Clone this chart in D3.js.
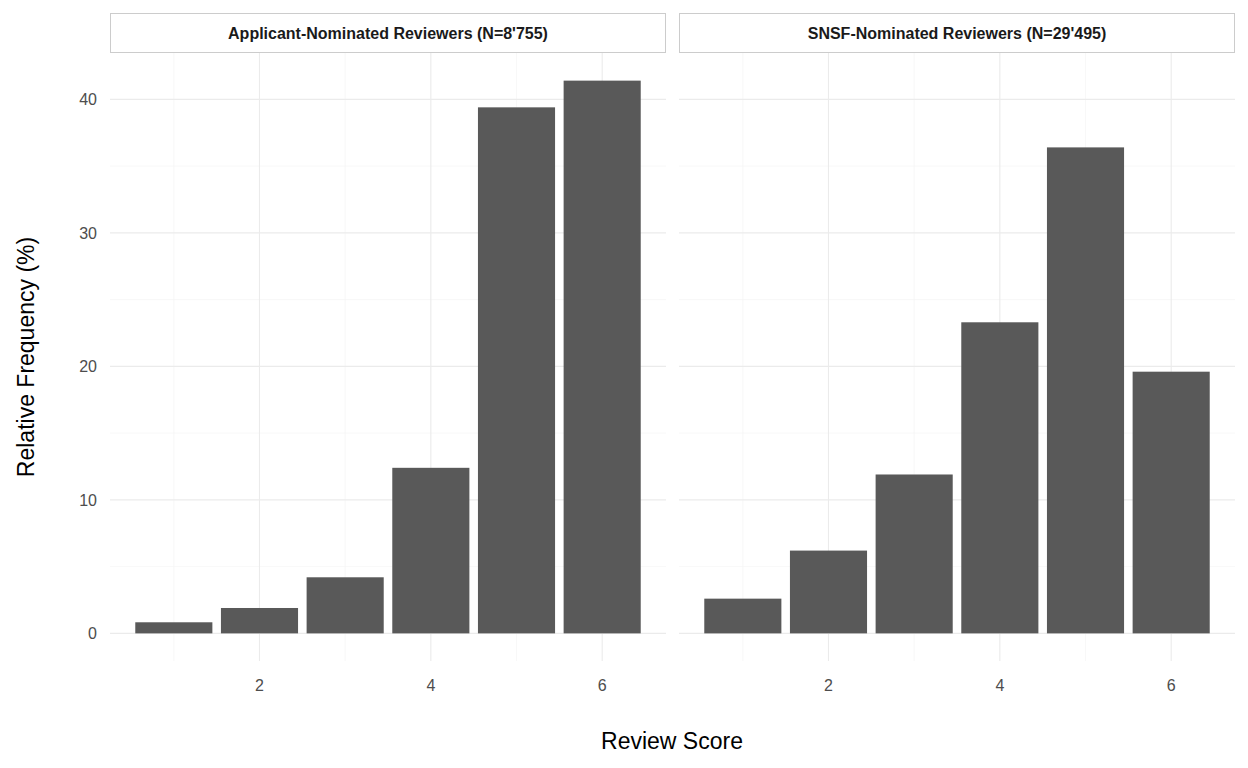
<!DOCTYPE html>
<html><head><meta charset="utf-8">
<script src="https://cdn.jsdelivr.net/npm/d3@7"></script>
<style>body{margin:0;background:#fff}</style>
</head><body>
<svg id="chart" width="1248" height="768"></svg>
<script>
var scores = [1, 2, 3, 4, 5, 6];
var applicantFreq = [0.83, 1.9, 4.2, 12.4, 39.4, 41.4];
var snsfFreq = [2.6, 6.2, 11.9, 23.3, 36.4, 19.6];
var panelTitles = ["Applicant-Nominated Reviewers (N=8'755)", "SNSF-Nominated Reviewers (N=29'495)"];
var xTicks = [2, 4, 6];
var yTicks = [0, 10, 20, 30, 40];

var svg = d3.select("#chart");
var font = "Liberation Sans, Arial, sans-serif";
var panelLefts = [110, 679], panelW = 556;
var panelTop = 53, panelBottom = 661;

var y = d3.scaleLinear().domain([-2.07, 43.47]).range([panelBottom, panelTop]);
var series = [applicantFreq, snsfFreq];

series.forEach(function(vals, i) {
  var x = d3.scaleLinear().domain([0.255, 6.745]).range([panelLefts[i], panelLefts[i] + panelW]);
  var g = svg.append("g");
  // minor grid
  [1, 3, 5].forEach(function(v) {
    g.append("line").attr("x1", x(v)).attr("x2", x(v)).attr("y1", panelTop).attr("y2", panelBottom)
      .attr("stroke", "#f3f3f3").attr("stroke-width", 0.6);
  });
  [5, 15, 25, 35].forEach(function(v) {
    g.append("line").attr("x1", x.range()[0]).attr("x2", x.range()[1]).attr("y1", y(v)).attr("y2", y(v))
      .attr("stroke", "#f3f3f3").attr("stroke-width", 0.6);
  });
  // major grid
  xTicks.forEach(function(v) {
    g.append("line").attr("x1", x(v)).attr("x2", x(v)).attr("y1", panelTop).attr("y2", panelBottom)
      .attr("stroke", "#ebebeb").attr("stroke-width", 1.1);
  });
  yTicks.forEach(function(v) {
    g.append("line").attr("x1", x.range()[0]).attr("x2", x.range()[1]).attr("y1", y(v)).attr("y2", y(v))
      .attr("stroke", "#ebebeb").attr("stroke-width", 1.1);
  });
  // bars
  g.selectAll("rect.bar").data(vals).enter().append("rect")
    .attr("x", function(d, j) { return x(scores[j] - 0.45); })
    .attr("width", x(0.9) - x(0))
    .attr("y", function(d) { return y(d); })
    .attr("height", function(d) { return y(0) - y(d); })
    .attr("fill", "#595959");
  // x tick labels
  g.selectAll("text.xt").data(xTicks).enter().append("text")
    .attr("x", function(d) { return x(d); }).attr("y", 691)
    .attr("text-anchor", "middle").attr("font-family", font).attr("font-size", 16).attr("fill", "#4d4d4d")
    .text(function(d) { return d; });
  // strip
  g.append("rect").attr("x", x.range()[0] + 0.5).attr("y", 13.5).attr("width", panelW - 1).attr("height", 39)
    .attr("fill", "#fff").attr("stroke", "#cccccc");
  g.append("text").attr("x", x.range()[0] + panelW / 2).attr("y", 39)
    .attr("text-anchor", "middle").attr("font-family", font).attr("font-size", 16).attr("font-weight", "bold")
    .attr("fill", "#1a1a1a").text(panelTitles[i]);
});

svg.selectAll("text.yt").data(yTicks).enter().append("text")
  .attr("x", 97).attr("y", function(d) { return y(d) + 6; })
  .attr("text-anchor", "end").attr("font-family", font).attr("font-size", 16).attr("fill", "#4d4d4d")
  .text(function(d) { return d; });

svg.append("text").attr("x", 672).attr("y", 749).attr("text-anchor", "middle")
  .attr("font-family", font).attr("font-size", 23).attr("fill", "#000").text("Review Score");
svg.append("text").attr("transform", "translate(34,357) rotate(-90)").attr("text-anchor", "middle")
  .attr("font-family", font).attr("font-size", 23).attr("fill", "#000").text("Relative Frequency (%)");
</script>
</body></html>
